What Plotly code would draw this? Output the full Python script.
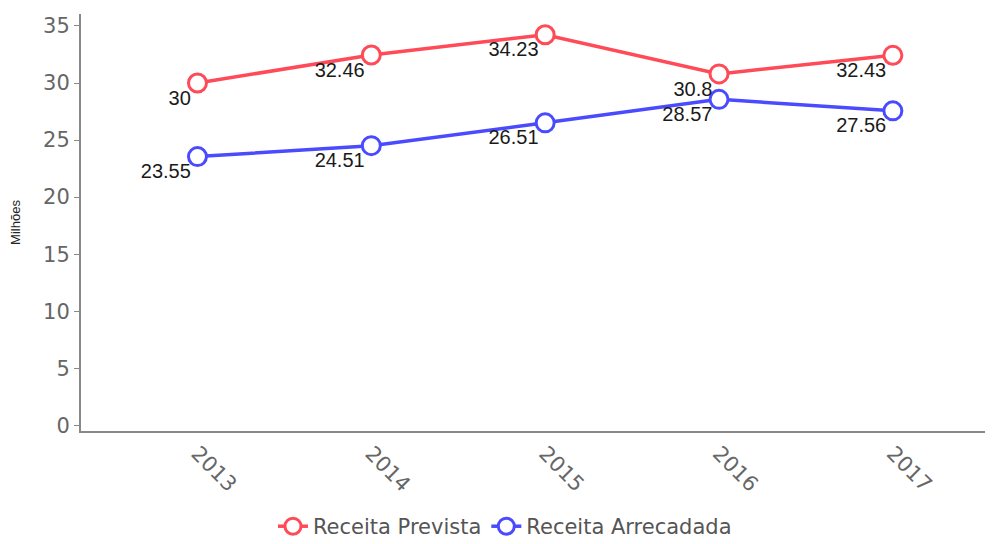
import plotly.graph_objects as go

anos = ["2013", "2014", "2015", "2016", "2017"]
prevista = [30, 32.46, 34.23, 30.8, 32.43]
arrecadada = [23.55, 24.51, 26.51, 28.57, 27.56]
yticks = [0, 5, 10, 15, 20, 25, 30, 35]

fig = go.Figure()
def add(name, vals, color):
    fig.add_trace(go.Scatter(
        x=anos, y=vals, name=name, mode="lines+markers",
        line=dict(color=color, width=3.5),
        marker=dict(symbol="circle", size=18, color="white", line=dict(color=color, width=3)),
        cliponaxis=False,
    ))
def labels(vals):
    fig.add_trace(go.Scatter(
        x=anos, y=vals, mode="markers+text", showlegend=False, hoverinfo="skip",
        marker=dict(size=9, color="rgba(0,0,0,0)"),
        text=[f"{v:g}" for v in vals], textposition="bottom left",
        textfont=dict(family="Liberation Sans, Arial", size=20, color="#1a1a1a"),
        cliponaxis=False,
    ))
add("Receita Prevista", prevista, "#ff4a57")
add("Receita Arrecadada", arrecadada, "#4a4aff")
labels(prevista)
labels(arrecadada)

fig.update_layout(
    width=993, height=544, paper_bgcolor="white", plot_bgcolor="white",
    margin=dict(l=81, r=8, t=14, b=113, autoexpand=False),
    showlegend=True,
    legend=dict(orientation="h", x=0.469, xanchor="center", y=-0.18, yanchor="top",
                font=dict(family="DejaVu Sans", size=21, color="#555")),
    xaxis=dict(type="category", range=[-0.67, 4.53], tickangle=45, automargin=False,
               showline=True, linecolor="#888", linewidth=2, showgrid=False,
               ticks="", tickfont=dict(family="DejaVu Sans", size=21, color="#666")),
    yaxis=dict(range=[-0.5, 36.05], tickvals=yticks, showline=True, linecolor="#888", linewidth=2,
               showgrid=False, zeroline=False, ticks="outside", ticklen=5, tickcolor="#888",
               automargin=True,
               tickfont=dict(family="DejaVu Sans", size=21, color="#666"),
               title=dict(text="Milhões", font=dict(family="Liberation Sans, Arial", size=13, color="#222"), standoff=20)),
)
fig.write_html("out.html")
